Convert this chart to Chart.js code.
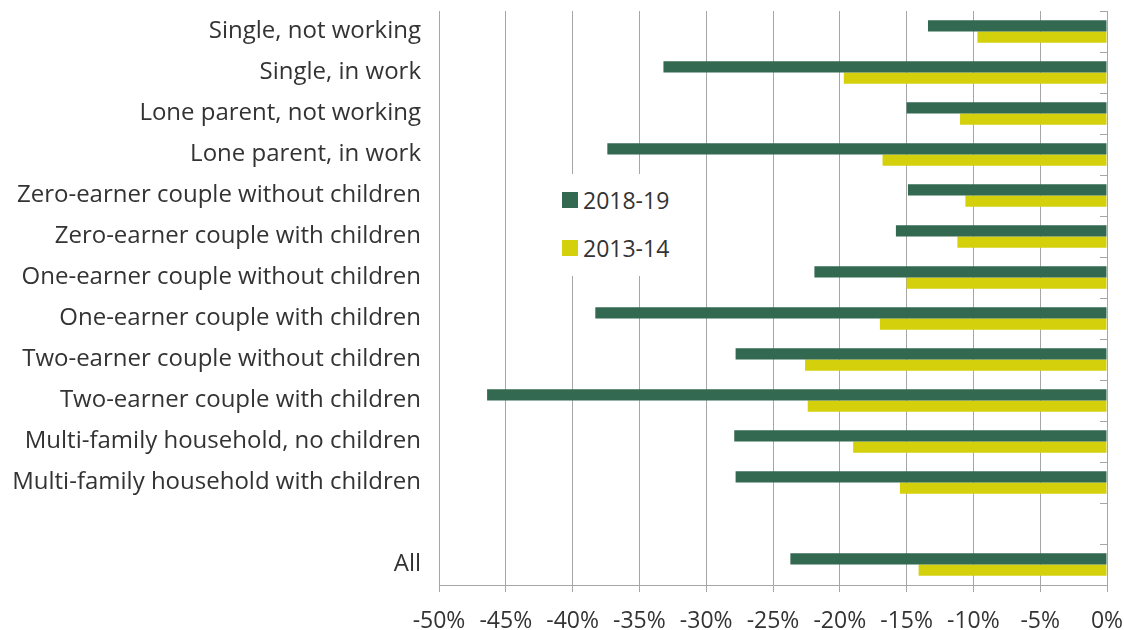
<!DOCTYPE html>
<html>
<head>
<meta charset="utf-8">
<script src="https://cdn.jsdelivr.net/npm/chart.js@4"></script>
<style>
  body { margin: 0; background: #fff; }
  #wrap { position: relative; width: 1124px; height: 630px; }
  #legend {
    position: absolute; left: 540px; top: 174px; width: 150px; height: 102px;
    background: #fff; font-family: "Open Sans", sans-serif; font-size: 23px; color: #333;
  }
  .item { position: absolute; left: 22px; display: flex; align-items: center; }
  .box { width: 16px; height: 16px; margin-right: 5px; }
</style>
</head>
<body>
<div id="wrap">
  <canvas id="chart" width="1124" height="630"></canvas>
  <div id="legend"></div>
</div>
<script>
const categories = [
  "Single, not working",
  "Single, in work",
  "Lone parent, not working",
  "Lone parent, in work",
  "Zero-earner couple without children",
  "Zero-earner couple with children",
  "One-earner couple without children",
  "One-earner couple with children",
  "Two-earner couple without children",
  "Two-earner couple with children",
  "Multi-family household, no children",
  "Multi-family household with children",
  "",
  "All",
];
const values2018 = [-13.4, -33.2, -15.0, -37.4, -14.9, -15.8, -21.9, -38.3, -27.8, -46.4, -27.9, -27.8, null, -23.7];
const values2013 = [-9.7, -19.7, -11.0, -16.8, -10.6, -11.2, -15.0, -17.0, -22.6, -22.4, -19.0, -15.5, null, -14.1];

const green = "#336950";
const yellow = "#d4d00b";
const gridColor = "#a6a6a6";
const textColor = "#333333";

// small tick marks on the zero line between categories
const categoryTicks = {
  id: "categoryTicks",
  afterDatasetsDraw(chart) {
    const { ctx, scales } = chart;
    const x0 = scales.x.getPixelForValue(0);
    const band = scales.y.height / categories.length;
    ctx.save();
    ctx.strokeStyle = gridColor;
    ctx.lineWidth = 1;
    ctx.beginPath();
    for (let i = 0; i <= categories.length; i++) {
      const y = Math.round(scales.y.top + i * band) + 0.5;
      ctx.moveTo(x0 - 7, y);
      ctx.lineTo(x0, y);
    }
    ctx.moveTo(x0 + 0.5, scales.y.top);
    ctx.lineTo(x0 + 0.5, scales.y.bottom);
    ctx.stroke();
    ctx.restore();
  },
};

const chart = new Chart(document.getElementById("chart"), {
  type: "bar",
  data: {
    labels: categories,
    datasets: [
      { label: "2018-19", data: values2018, backgroundColor: green },
      { label: "2013-14", data: values2013, backgroundColor: yellow },
    ],
  },
  options: {
    indexAxis: "y",
    responsive: false,
    animation: false,
    layout: { padding: { top: 11, right: 17, left: 0, bottom: 0 } },
    datasets: { bar: { categoryPercentage: 0.55, barPercentage: 1 } },
    plugins: { legend: { display: false }, tooltip: { enabled: false } },
    scales: {
      x: {
        min: -50,
        max: 0,
        ticks: {
          stepSize: 5,
          color: textColor,
          padding: 16,
          font: { family: "Open Sans", size: 23 },
          callback: (v) => v + "%",
        },
        grid: { color: gridColor, tickLength: 7 },
        border: { color: gridColor },
        afterFit: (s) => {
          s.height = 45;
          s.paddingLeft = 0;
          s.paddingRight = 0;
        },
      },
      y: {
        ticks: {
          color: textColor,
          padding: 10,
          font: { family: "Open Sans", size: 24 },
          autoSkip: false,
        },
        grid: { display: false },
        border: { color: gridColor },
        afterFit: (s) => {
          s.width = 439;
          s.paddingTop = 0;
          s.paddingBottom = 0;
        },
      },
    },
  },
  plugins: [categoryTicks],
});

const legend = document.getElementById("legend");
chart.data.datasets.forEach((ds, i) => {
  const item = document.createElement("div");
  item.className = "item";
  item.style.top = (10 + i * 48) + "px";
  item.innerHTML = `<span class="box" style="background:${ds.backgroundColor}"></span>${ds.label}`;
  legend.appendChild(item);
});
</script>
</body>
</html>
